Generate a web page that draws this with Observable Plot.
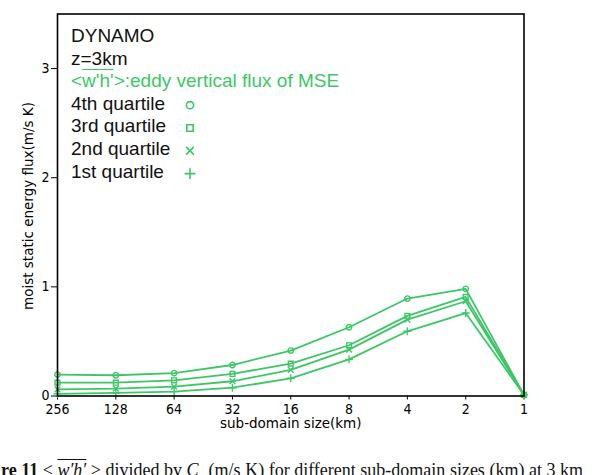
<!DOCTYPE html>
<html><head><meta charset="utf-8">
<script src="https://cdn.jsdelivr.net/npm/d3@7"></script>
<script src="https://cdn.jsdelivr.net/npm/@observablehq/plot@0.6"></script>
<style>
body{margin:0;background:#fff;}
#wrap{position:relative;width:609px;height:475px;overflow:hidden;}
#legend{position:absolute;left:71px;top:25px;font-family:"Liberation Sans",Arial,sans-serif;font-size:19px;line-height:22.6px;color:#111;white-space:nowrap;}
.g{color:#3cc766}
.ol{text-decoration:overline;}
#caption{position:absolute;left:1px;width:582px;top:459px;font-family:"Liberation Serif","Times New Roman",serif;font-size:18px;line-height:22px;text-align:justify;text-align-last:justify;color:#111;}
</style>
</head><body>
<div id="wrap">
<div id="chart"></div>
<div id="legend">
<div>DYNAMO</div>
<div>z=3km</div>
<div class="g">&lt;<span class="ol">w'h'</span>&gt;:eddy vertical flux of MSE</div>
<div id="names"></div>
</div>
<div id="caption"><b>re 11</b> &lt; <i class="ol">w′h′</i> &gt; divided by <i>C</i><sub style="font-size:11px">p</sub> (m/s K) for different sub-domain sizes (km) at 3 km</div>
</div>
<script>
const sizes = [256, 128, 64, 32, 16, 8, 4, 2, 1];
const q4 = [0.196, 0.19, 0.21, 0.284, 0.416, 0.63, 0.893, 0.982, 0.01];
const q3 = [0.122, 0.122, 0.144, 0.202, 0.297, 0.465, 0.734, 0.908, 0.01];
const q2 = [0.061, 0.067, 0.086, 0.135, 0.239, 0.425, 0.70, 0.868, 0.01];
const q1 = [0.02, 0.028, 0.04, 0.076, 0.162, 0.336, 0.593, 0.76, 0.01];
const seriesNames = ["4th quartile", "3rd quartile", "2nd quartile", "1st quartile"];
const seriesSymbols = ["circle", "square", "times", "plus"];
const seriesValues = [q4, q3, q2, q1];
const yTicks = [0, 1, 2, 3];
const yLabel = "moist static energy flux(m/s K)";
const xLabel = "sub-domain size(km)";

const green = "#3cc766";
const data = seriesNames.flatMap((name, i) =>
  sizes.map((s, j) => ({name, size: s, value: seriesValues[i][j]})));

document.getElementById("names").innerHTML = seriesNames.map(n => `<div>${n}</div>`).join("");

const legendDots = seriesNames.map((n, i) =>
  Plot.dot([n], {frameAnchor: "top-left", dx: 132.5, dy: 91.2 + 22.8 * i,
    symbol: seriesSymbols[i], r: 3.6, stroke: green, fill: "none", strokeWidth: 1.6}));

const chart = Plot.plot({
  width: 609, height: 475,
  marginLeft: 57, marginRight: 85.5, marginTop: 13.5, marginBottom: 79.5,
  style: {fontFamily: "'DejaVu Sans Condensed','DejaVu Sans',sans-serif", fontSize: "14px", color: "#000", background: "#fff"},
  x: {type: "log", base: 2, domain: [256, 1], ticks: sizes, tickFormat: d => String(d), tickSize: 4, tickPadding: 4, label: null},
  y: {domain: [0, 3.5], ticks: yTicks, tickFormat: d => String(d), tickSize: 6, tickPadding: 2, label: null},
  symbol: {domain: seriesNames, range: seriesSymbols},
  marks: [
    Plot.line(data, {x: "size", y: "value", z: "name", stroke: green, strokeWidth: 1.8}),
    Plot.dot(data, {x: "size", y: "value", symbol: "name", stroke: green, fill: "none", r: 2.7, strokeWidth: 1.4}),
    Plot.frame({stroke: "#000", strokeWidth: 1.6}),
    ...legendDots,
    Plot.text([yLabel], {frameAnchor: "left", rotate: -90, dx: -29, dy: 1, textAnchor: "middle", lineAnchor: "middle", text: d => d, fontFamily: "DejaVu Sans", fontSize: 13.5, fill: "#000", letterSpacing: "0.5px"}),
    Plot.text([xLabel], {frameAnchor: "bottom", dy: 28, textAnchor: "middle", lineAnchor: "middle", text: d => d, fontFamily: "DejaVu Sans", fontSize: 13.5, fill: "#000"})
  ]
});
document.getElementById("chart").appendChild(chart);
</script>
</body></html>
